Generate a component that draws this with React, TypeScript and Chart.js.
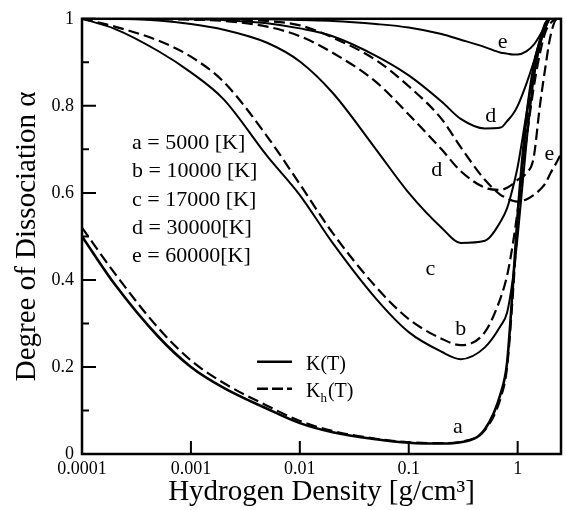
import React, { useEffect, useRef } from "react";
import { Chart, registerables } from "chart.js";

Chart.register(...registerables);

// Hydrogen density [g/cm^3]
const density = [1e-4, 2e-4, 5e-4, 1e-3, 2e-3, 5e-3, 0.01, 0.02, 0.05, 0.1, 0.2, 0.3, 0.5, 0.7, 0.8, 0.9, 1.0, 1.2, 1.4, 1.6, 1.8, 2.0, 2.3, 2.5];

// Degree of dissociation, K(T) (solid)
const aSolid = [0.50, 0.39, 0.27, 0.20, 0.152, 0.104, 0.071, 0.050, 0.034, 0.026, 0.024, 0.027, 0.057, 0.14, 0.21, 0.38, 0.55, 0.77, 0.89, 0.95, 0.99, 1.0, 1.0, 1.0];
const bSolid = [1.0, 0.977, 0.926, 0.877, 0.815, 0.685, 0.595, 0.485, 0.357, 0.28, 0.235, 0.218, 0.245, 0.295, 0.325, 0.40, 0.50, 0.71, 0.86, 0.94, 0.98, 1.0, 1.0, 1.0];
const cSolid = [1.0, 1.0, 0.996, 0.988, 0.975, 0.945, 0.902, 0.83, 0.70, 0.60, 0.52, 0.485, 0.49, 0.535, 0.565, 0.61, 0.66, 0.78, 0.88, 0.945, 0.985, 1.0, 1.0, 1.0];
const dSolid = [1.0, 1.0, 1.0, 0.999, 0.997, 0.99, 0.978, 0.96, 0.915, 0.87, 0.81, 0.77, 0.748, 0.75, 0.765, 0.78, 0.80, 0.85, 0.90, 0.95, 0.985, 1.0, 1.0, 1.0];
const eSolid = [1.0, 1.0, 1.0, 1.0, 1.0, 0.999, 0.997, 0.995, 0.988, 0.98, 0.965, 0.952, 0.935, 0.922, 0.92, 0.918, 0.918, 0.925, 0.94, 0.962, 0.985, 1.0, 1.0, 1.0];

// Degree of dissociation, K_h(T) (dashed)
const aDashed = [0.52, 0.415, 0.29, 0.215, 0.163, 0.111, 0.076, 0.053, 0.035, 0.027, 0.025, 0.028, 0.055, 0.13, 0.20, 0.36, 0.53, 0.75, 0.87, 0.94, 0.98, 1.0, 1.0, 1.0];
const bDashed = [1.0, 0.982, 0.95, 0.913, 0.855, 0.73, 0.62, 0.508, 0.384, 0.31, 0.265, 0.25, 0.28, 0.36, 0.41, 0.48, 0.56, 0.72, 0.84, 0.92, 0.97, 0.99, 1.0, 1.0];
const dDashed = [1.0, 1.0, 0.999, 0.998, 0.995, 0.982, 0.96, 0.922, 0.855, 0.78, 0.70, 0.65, 0.612, 0.607, 0.612, 0.62, 0.63, 0.645, 0.68, 0.80, 0.89, 0.96, 1.0, 1.0];
const eDashed = [1.0, 1.0, 1.0, 1.0, 0.999, 0.995, 0.985, 0.957, 0.905, 0.845, 0.77, 0.705, 0.63, 0.595, 0.588, 0.582, 0.58, 0.585, 0.595, 0.607, 0.622, 0.645, 0.672, 0.69];

const temperatureLines = ["a = 5000 [K]", "b = 10000 [K]", "c = 17000 [K]", "d = 30000[K]", "e = 60000[K]"];
const legendSolid = "K(T)";
const legendDashed = ["K", "h", "(T)"];

const xTickValues = [1e-4, 1e-3, 1e-2, 1e-1, 1];
const xTickLabels = ["0.0001", "0.001", "0.01", "0.1", "1"];
const yTickValues = [0, 0.2, 0.4, 0.6, 0.8, 1];
const yTickLabels = ["0", "0.2", "0.4", "0.6", "0.8", "1"];
const yMinorTicks = [0.1, 0.3, 0.5, 0.7, 0.9];

// curve labels anchored in data coordinates
const curveLabelText = ["e", "d", "d", "e", "c", "b", "a"];
const curveLabelX = [0.729, 0.566, 0.181, 1.96, 0.158, 0.301, 0.283];
const curveLabelY = [0.946, 0.777, 0.651, 0.689, 0.425, 0.286, 0.061];

const SERIF = "'Liberation Serif', 'Times New Roman', 'DejaVu Serif', serif";

const pts = (ys: number[]) => density.map((x, i) => ({ x, y: ys[i] }));

export default function App() {
  const ref = useRef<HTMLCanvasElement | null>(null);

  useEffect(() => {
    document.body.style.margin = "0";
    const canvas = ref.current;
    if (!canvas) return;

    const solid = (ys: number[], w = 2) => ({
      data: pts(ys),
      borderColor: "#000",
      borderWidth: w,
      pointRadius: 0,
      fill: false,
      cubicInterpolationMode: "monotone" as const,
    });
    const dashed = (ys: number[], w = 2.2) => ({
      ...solid(ys, w),
      borderDash: [11, 5],
    });

    const decor = {
      id: "decor",
      afterDraw(chart: any) {
        const { ctx, chartArea: ca, scales } = chart;
        const xs = scales.x;
        const ys = scales.y;
        ctx.save();
        ctx.strokeStyle = "#000";
        ctx.fillStyle = "#000";
        // frame
        ctx.lineWidth = 2.5;
        ctx.strokeRect(ca.left, ca.top, ca.right - ca.left, ca.bottom - ca.top);
        // ticks
        ctx.lineWidth = 2;
        ctx.beginPath();
        yTickValues.forEach((v) => {
          const py = ys.getPixelForValue(v);
          ctx.moveTo(ca.left, py);
          ctx.lineTo(ca.left + 14, py);
        });
        yMinorTicks.forEach((v) => {
          const py = ys.getPixelForValue(v);
          ctx.moveTo(ca.left, py);
          ctx.lineTo(ca.left + 7, py);
        });
        xTickValues.forEach((v) => {
          const px = xs.getPixelForValue(v);
          ctx.moveTo(px, ca.bottom);
          ctx.lineTo(px, ca.bottom - 13);
        });
        ctx.stroke();

        // temperature list
        ctx.font = `22px ${SERIF}`;
        ctx.textAlign = "left";
        ctx.textBaseline = "alphabetic";
        temperatureLines.forEach((t, i) => {
          ctx.fillText(t, ca.left + 50, ca.top + 130 + i * 28.4);
        });

        // curve labels
        ctx.textAlign = "center";
        ctx.textBaseline = "middle";
        curveLabelText.forEach((t, i) => {
          ctx.fillText(t, xs.getPixelForValue(curveLabelX[i]), ys.getPixelForValue(curveLabelY[i]));
        });

        // K legend
        const lx0 = ca.left + 175;
        const lx1 = ca.left + 210;
        const ly1 = ca.top + 343;
        const ly2 = ca.top + 370;
        ctx.lineWidth = 2.5;
        ctx.beginPath();
        ctx.moveTo(lx0, ly1);
        ctx.lineTo(lx1, ly1);
        ctx.stroke();
        ctx.setLineDash([11, 4]);
        ctx.beginPath();
        ctx.moveTo(lx0, ly2);
        ctx.lineTo(lx1, ly2);
        ctx.stroke();
        ctx.setLineDash([]);
        ctx.textAlign = "left";
        ctx.textBaseline = "alphabetic";
        ctx.font = `20px ${SERIF}`;
        const tx = ca.left + 224;
        ctx.fillText(legendSolid, tx, ly1 + 8);
        ctx.fillText(legendDashed[0], tx, ly2 + 8);
        const kw = ctx.measureText(legendDashed[0]).width;
        ctx.font = `13px ${SERIF}`;
        ctx.fillText(legendDashed[1], tx + kw, ly2 + 13);
        const hw = ctx.measureText(legendDashed[1]).width;
        ctx.font = `20px ${SERIF}`;
        ctx.fillText(legendDashed[2], tx + kw + hw + 1, ly2 + 8);
        ctx.restore();
      },
    };

    const chart = new Chart(canvas, {
      type: "line",
      data: {
        datasets: [
          solid(aSolid, 2.6),
          dashed(aDashed),
          solid(bSolid),
          dashed(bDashed),
          solid(cSolid),
          solid(dSolid),
          dashed(dDashed),
          solid(eSolid),
          dashed(eDashed),
        ],
      },
      options: {
        responsive: false,
        animation: false,
        devicePixelRatio: 1,
        layout: { padding: { top: 10, right: 5, left: 0, bottom: 0 } },
        plugins: { legend: { display: false }, tooltip: { enabled: false } },
        scales: {
          x: {
            type: "logarithmic",
            min: 1e-4,
            max: 2.5,
            grid: { display: false, drawTicks: false },
            border: { display: false },
            afterBuildTicks: (scale: any) => {
              scale.ticks = xTickValues.map((v) => ({ value: v }));
            },
            afterFit: (scale: any) => {
              scale.height = 56;
            },
            ticks: {
              autoSkip: false,
              maxRotation: 0,
              padding: 4,
              color: "#000",
              font: { family: SERIF, size: 18 },
              callback: (_v: any, i: number) => xTickLabels[i],
            },
            title: {
              display: true,
              text: "Hydrogen Density [g/cm³]",
              color: "#000",
              font: { family: SERIF, size: 29 },
              padding: { top: 0, bottom: 0 },
            },
          },
          y: {
            type: "linear",
            min: 0,
            max: 1,
            grid: { display: false, drawTicks: false },
            border: { display: false },
            afterBuildTicks: (scale: any) => {
              scale.ticks = yTickValues.map((v) => ({ value: v }));
            },
            afterFit: (scale: any) => {
              scale.width = 82;
            },
            ticks: {
              padding: 8,
              color: "#000",
              font: { family: SERIF, size: 18 },
              callback: (_v: any, i: number) => yTickLabels[i],
            },
            title: {
              display: true,
              text: "Degree of Dissociation α",
              color: "#000",
              font: { family: SERIF, size: 29 },
              padding: { top: 10, bottom: 0 },
            },
          },
        },
      },
      plugins: [decor],
    } as any);

    return () => chart.destroy();
  }, []);

  return (
    <div style={{ width: 566, height: 510 }}>
      <canvas ref={ref} width={566} height={510} style={{ display: "block" }} />
    </div>
  );
}
